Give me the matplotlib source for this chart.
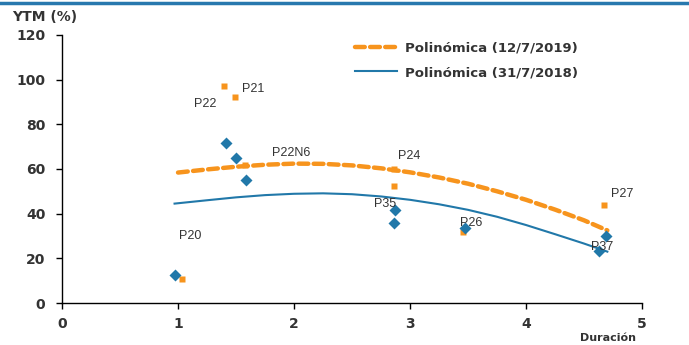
import matplotlib
matplotlib.use("Agg")
import matplotlib.pyplot as plt
from matplotlib.lines import Line2D

plt.rcParams['font.family'] = ['Liberation Sans', 'DejaVu Sans']

ORANGE = '#F7941D'
BLUE = '#2178A9'
TXT = '#333333'

# bonds 12/7/2019 (orange squares)
dur_2019 = [1.03, 1.40, 1.49, 1.58, 2.86, 2.86, 3.46, 4.67]
ytm_2019 = [10.7, 97.2, 92.2, 62.0, 52.4, 60.0, 31.8, 43.9]

# bonds 31/7/2018 (blue diamonds)
dur_2018 = [0.97, 1.41, 1.50, 1.59, 2.87, 2.86, 3.47, 4.69, 4.63]
ytm_2018 = [12.5, 71.6, 65.0, 55.0, 41.6, 35.8, 33.6, 30.0, 23.3]

# polynomial trend lines
trend_x_2019 = [1.0, 1.25, 1.5, 1.75, 2.0, 2.25, 2.5, 2.75, 3.0, 3.25, 3.5,
                3.75, 4.0, 4.25, 4.5, 4.7]
trend_y_2019 = [58.4, 59.8, 61.0, 61.9, 62.4, 62.3, 61.6, 60.3, 58.5, 56.2,
                53.4, 50.0, 46.2, 41.8, 37.0, 32.5]
trend_x_2018 = [0.97, 1.25, 1.5, 1.75, 2.0, 2.25, 2.5, 2.75, 3.0, 3.25, 3.5,
                3.75, 4.0, 4.25, 4.5, 4.7]
trend_y_2018 = [44.5, 46.0, 47.3, 48.3, 48.9, 49.1, 48.7, 47.7, 46.2, 44.2,
                41.7, 38.6, 34.9, 30.8, 26.6, 23.0]

# bond labels
labels = ['P21', 'P22', 'P22N6', 'P24', 'P35', 'P26', 'P27', 'P37', 'P20']
label_x = [1.55, 1.14, 1.81, 2.90, 2.69, 3.43, 4.73, 4.56, 1.01]
label_y = [96.0, 89.0, 67.0, 66.0, 44.5, 36.0, 49.0, 25.0, 30.0]

fig = plt.figure(figsize=(6.89, 3.45), dpi=100)
ax = fig.add_axes([0.09, 0.1217, 0.842, 0.777])

dash = (0, (2.2, 1.2))
ax.plot(trend_x_2019, trend_y_2019, color=ORANGE, lw=3.2, ls=dash,
        dash_capstyle='round', zorder=2)
ax.plot(trend_x_2018, trend_y_2018, color=BLUE, lw=1.5, zorder=2)

ax.plot(dur_2019, ytm_2019, 's', color=ORANGE, ms=4.5, mec='none', zorder=3)
ax.plot(dur_2018, ytm_2018, 'D', color=BLUE, ms=6, mec='none', zorder=3)

for t, x, y in zip(labels, label_x, label_y):
    ax.text(x, y, t, fontsize=9, color=TXT, ha='left', va='center')

ax.set_xlim(0, 5)
ax.set_ylim(0, 120)
ax.set_xticks(range(0, 6))
ax.set_yticks(range(0, 121, 20))
ax.tick_params(axis='both', length=4, width=1, direction='out', color='black',
               labelcolor=TXT)
ax.tick_params(axis='y', pad=8)
ax.tick_params(axis='x', pad=6)
for lbl in ax.get_xticklabels() + ax.get_yticklabels():
    lbl.set_fontfamily('DejaVu Sans')
    lbl.set_fontweight('bold')
    lbl.set_fontsize(10)
for s in ['top', 'right']:
    ax.spines[s].set_visible(False)
for s in ['left', 'bottom']:
    ax.spines[s].set_color('black')
    ax.spines[s].set_linewidth(1)

handles = [Line2D([], [], color=ORANGE, lw=3.2, ls=dash, dash_capstyle='round'),
           Line2D([], [], color=BLUE, lw=1.5)]
ax.legend(handles, ['Polinómica (12/7/2019)', 'Polinómica (31/7/2018)'],
          loc='upper left', bbox_to_anchor=(0.4845, 1.021), frameon=False,
          prop={'family': 'DejaVu Sans', 'weight': 'bold', 'size': 9.5},
          labelcolor=TXT, handlelength=3.2, handletextpad=0.6,
          labelspacing=0.9)

fig.text(12 / 689, 1 - 17 / 345, 'YTM (%)', fontsize=10, fontweight='bold',
         family='DejaVu Sans', color=TXT, ha='left', va='center')
fig.text(636 / 689, 1 - 338 / 345, 'Duración', fontsize=8, fontweight='bold',
         family='DejaVu Sans', color=TXT, ha='right', va='center')

# top rule
fig.add_artist(Line2D([0, 1], [1 - 3 / 345, 1 - 3 / 345], color='#2878AE',
                      lw=2.5, transform=fig.transFigure))

fig.savefig('out.png', dpi=100)
